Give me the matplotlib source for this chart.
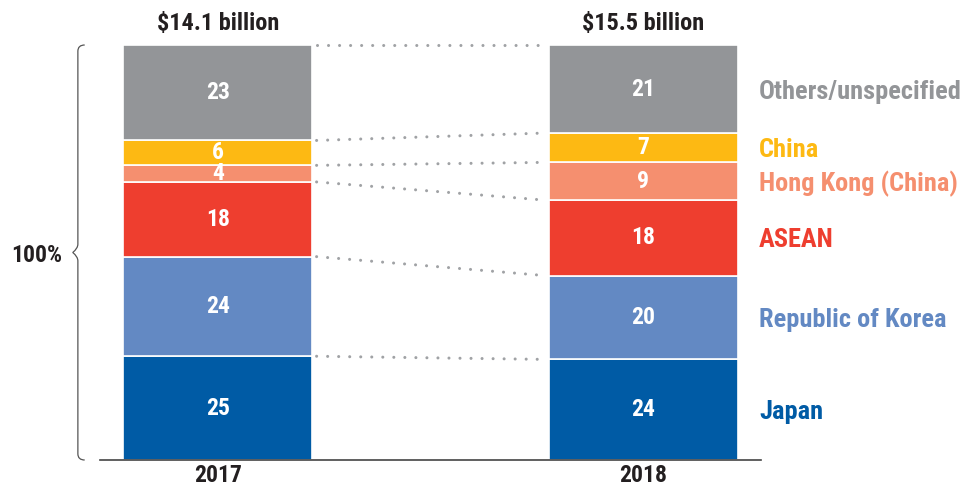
import numpy as np
import matplotlib
matplotlib.use("Agg")
import matplotlib.pyplot as plt
from matplotlib.path import Path
from matplotlib.patches import PathPatch

plt.rcParams['font.family'] = ['Roboto Condensed', 'Liberation Sans Narrow', 'DejaVu Sans']

# data (shares in %, bottom to top)
years = ['2017', '2018']
totals = ['$14.1 billion', '$15.5 billion']
regions = ['Japan', 'Republic of Korea', 'ASEAN', 'Hong Kong (China)', 'China', 'Others/unspecified']
share_2017 = [25, 24, 18, 4, 6, 23]
share_2018 = [24, 20, 18, 9, 7, 21]
colors = ['#005BA5', '#6389C3', '#EE3E2F', '#F58F6F', '#FDB913', '#939598']

fig = plt.figure(figsize=(9.63, 4.88), dpi=100)
ax = fig.add_axes([0, 28 / 488, 1, 415 / 488])
ax.set_xlim(-0.512, 1.751)
ax.set_ylim(0, 100)
ax.axis('off')

width = 0.444
xs = np.arange(len(years))
data = np.array([share_2017, share_2018], dtype=float)
data = data / data.sum(axis=1, keepdims=True) * 100
bottoms = np.zeros(len(years))
for i, reg in enumerate(regions):
    vals = data[:, i]
    ax.bar(xs, vals, width, bottom=bottoms, color=colors[i], edgecolor='white', linewidth=1.2)
    raw = [share_2017[i], share_2018[i]]
    for j in range(len(years)):
        ax.text(xs[j], bottoms[j] + vals[j] / 2, str(raw[j]), ha='center', va='center',
                color='white', fontsize=17, fontweight='bold')
    # legend label on the right
    ax.text(xs[1] + width / 2 + 0.05, bottoms[1] + vals[1] / 2, reg, ha='left', va='center_baseline',
            color=colors[i], fontsize=19, fontweight='bold')
    bottoms = bottoms + vals

# dotted connectors between boundaries
cum = np.cumsum(data, axis=1)
for k in range(cum.shape[1]):
    ax.plot([xs[0] + width / 2 + 0.01, xs[1] - width / 2 - 0.01], [cum[0, k], cum[1, k]],
            color='#A0A2A5', linewidth=2.2, linestyle=(0, (0.01, 3.6)),
            dash_capstyle='round', clip_on=False)

# baseline
ax.plot([-0.277, 1.277], [0, 0], color='#444444', linewidth=1.2, clip_on=False)

# totals and years
for j in range(len(years)):
    ax.text(xs[j], 103.6, totals[j], ha='center', va='baseline', fontsize=17.5,
            fontweight='bold', color='#231F20')
    ax.text(xs[j], -5.3, years[j], ha='center', va='baseline', fontsize=17,
            fontweight='bold', color='#231F20')

# left brace
xb, xt, xm = -0.329, -0.313, -0.341
verts = [(xt, 100), (xb, 100), (xb, 98.5),
         (xb, 52), (xb, 51), (xm, 50),
         (xb, 49), (xb, 48), (xb, 1.5),
         (xb, 0), (xt, 0)]
codes = [Path.MOVETO, Path.CURVE3, Path.CURVE3,
         Path.LINETO, Path.CURVE3, Path.CURVE3,
         Path.CURVE3, Path.CURVE3, Path.LINETO,
         Path.CURVE3, Path.CURVE3]
ax.add_patch(PathPatch(Path(verts, codes), facecolor='none', edgecolor='#555555',
                       linewidth=0.9, clip_on=False))
ax.text(xm - 0.025, 50, '100%', ha='right', va='center_baseline', fontsize=17,
        fontweight='bold', color='#231F20')

fig.savefig('out.png', dpi=100)
